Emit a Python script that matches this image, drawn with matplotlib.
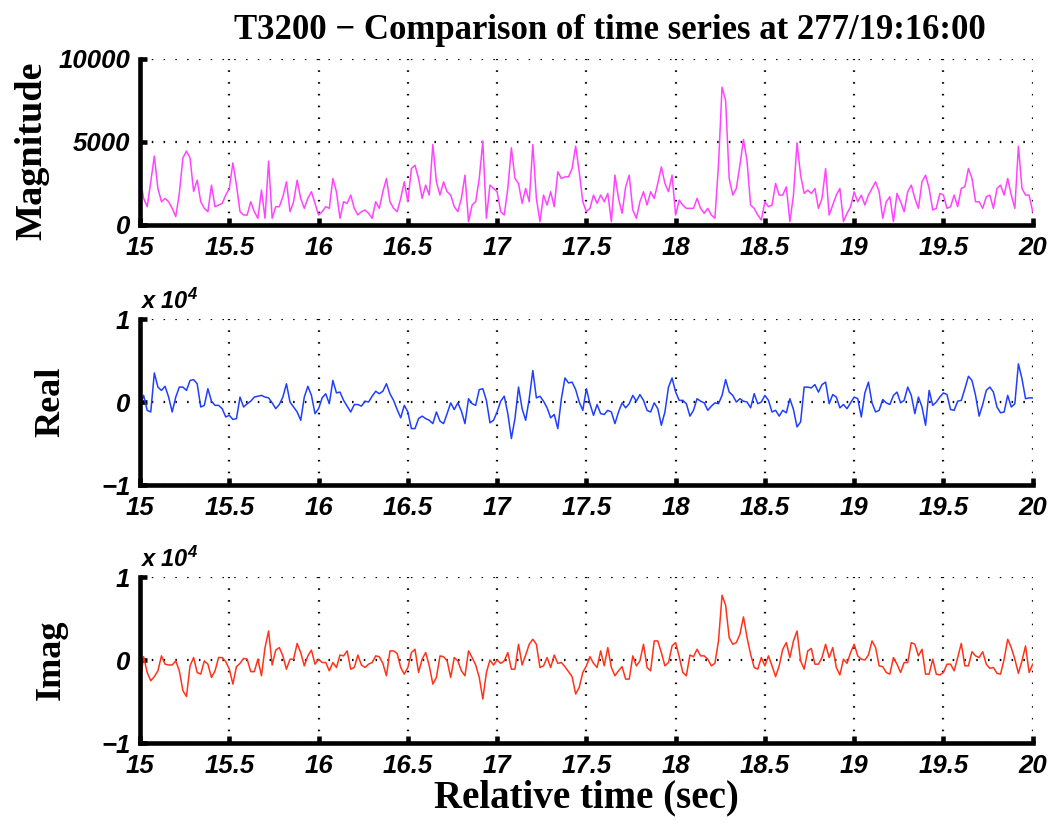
import numpy as np
import matplotlib.pyplot as plt
from matplotlib.ticker import FuncFormatter

plt.rcParams['font.family'] = 'Liberation Sans'
plt.rcParams['font.weight'] = 'bold'
plt.rcParams['font.style'] = 'italic'
plt.rcParams['mathtext.fontset'] = 'custom'
plt.rcParams['mathtext.rm'] = 'Liberation Sans:bold:italic'
plt.rcParams['mathtext.it'] = 'Liberation Sans:bold:italic'
plt.rcParams['mathtext.bf'] = 'Liberation Sans:bold:italic'

t_start = 15.0
t_step = 0.02

magnitude = [
    2830, 1600, 1100, 2600, 4150, 2200, 1400, 1600, 1400, 1000, 500, 1900, 4040, 4450, 4040, 2020,
    2700, 1400, 1000, 800, 2400, 1100, 1200, 1300, 1800, 2200, 3740, 2400, 800, 600, 600, 1400,
    800, 400, 2100, 400, 3840, 400, 1100, 1100, 1700, 2600, 800, 1400, 2700, 1600, 1000, 1600,
    2000, 1300, 600, 800, 1100, 1000, 2800, 2000, 400, 1400, 1300, 1800, 1000, 600, 800, 900,
    700, 400, 1400, 1000, 2000, 2800, 1400, 1000, 800, 1600, 2600, 1400, 3400, 3600, 2800, 1600,
    2400, 1800, 4850, 2600, 1800, 2600, 2000, 1800, 1100, 800, 1600, 3000, 200, 1200, 1400, 2800,
    5050, 400, 2400, 2200, 2000, 800, 600, 2200, 4650, 2800, 2500, 1300, 2200, 1400, 4850, 1600,
    200, 1800, 1200, 2000, 1100, 3200, 2800, 2900, 2900, 3400, 4750, 3200, 1400, 800, 1000, 1800,
    1300, 1800, 1400, 1900, 200, 3000, 1600, 700, 2300, 3000, 900, 400, 1400, 2000, 1200, 2000,
    1600, 2500, 3500, 2500, 2000, 3000, 600, 1500, 1200, 1000, 1000, 1000, 1600, 1000, 700, 1000,
    600, 400, 3600, 8300, 7500, 2800, 1800, 2200, 3600, 5150, 3840, 1200, 1000, 600, 300, 1400,
    1100, 1200, 2500, 1800, 1800, 2300, 200, 1800, 4950, 3000, 1900, 2100, 1900, 2200, 1000, 1600,
    3400,
    600, 1200, 1800, 2200, 200, 700, 1100, 2000, 1400, 1800, 1200, 1800, 2200, 2600, 2000, 400,
    1400, 1700, 200, 1900, 1400, 800, 2000, 2400, 1600, 1000, 2600, 3000, 2200, 900, 1000, 1900,
    1800, 1000, 1100, 1800, 1100, 2200, 2300, 3400, 2800, 1400, 1400, 1000, 1700, 1800, 1000, 2200,
    2400, 1800, 2800, 1800, 1000, 4750, 2200, 1800, 1800, 800,
]

real_part = [
    -400, 800, -1000, -1200, 3500, 1800, 1400, 1900, 600, -1200, 600, 1800, 1800, 1400, 2600, 2700,
    2200, -600, -400, 1600, 100, -400, -400, -800, -1800, -1600, -2100, -2000, 600, -600, -200, 100,
    600, 700, 800, 600, 500, -100, -800, -300, 600, 2200, 0, -600, -1200, -2200, 600, 1900,
    800, -1400, -800, 500, 1000, -200, 2600, 1100, 1200, 200, -500, -1200, -300, -300, -500, 100,
    0, 700, 1300, 1000, 1300, 2200, 1000, 200, -900, -1900, -400, -1200, -3200, -3200, -2000, -1700,
    -2000, -2200, -2600, -1200, -2300, -2600, -1400, -100, -900, -100, -1100, -2600, 400, -200, -400, 1500,
    1600, 200, -2500, -2200, -1200, 100, 700, -1400, -4400, -2000, 1800, -800, -2200, 400, 3800, 500,
    700, 100, -700, -1900, -1500, -3200, 400, 2900, 2300, 2400, 1500, 0, -1000, 1600, -200, -1600,
    -300, -1400, -1500, -1000, -1200, -2600, -1200, -100, -700, -200, 800, 100, 900, 200, -1000, -1200,
    -100, -800, -2800, -1200, 1800, 2900, 1200, 200, 200, -200, -1700, -1000, 400, 100, -100, -1000,
    -500, -100, -200, 800, 2700, 1200, 800, 0, 400, 100, 0, -700, 1000, -200, 0, 800,
    200, -1200, -1000, -1700, -1000, -1300, 400, -900, -3000, -2400, 1800, 1800, 1700, 2100, 1200, 2100,
    2400,
    -200, 900, 600, -700, -300, -800, -100, 600, 400, -1800, 1100, 2400, -100, -1200, -1000, 300,
    -100, -300, 800, 1200, -100, 200, 1800, 800, -1400, 600, -600, -2800, 1400, -400, 0, 600,
    1100, 900, -900, -1000, 100, 200, 1600, 3100, 2600, 800, -1700, -300, 1400, 1800, 1200, -600,
    -1300, -1200, 800, -600, -200, 4600, 2800, 400, 500, 500,
]

imag_part = [
    -2700, 400, -1500, -2500, -2000, -1300, 500, -500, -600, -600, -100, -1300, -3700, -4400, -700, 300,
    -1500, -1700, -100, -500, -2100, -1300, 300, 300, -200, -1100, -2900, -800, -400, 200, 100, -1400,
    -1400, 100, -1900, 1500, 3500, -600, 1200, 1500, 500, -1100, 100, 100, 2000, 900, -700, 500,
    1200, -500, 100, -300, -300, -1300, -300, -900, 600, 500, 1100, -1100, -900, 600, -600, -900,
    -500, -300, 500, 400, -400, -1900, 1100, 1100, 800, -900, -1700, -900, 900, 1300, -1500, 100,
    900, -700, -2900, -2100, 500, 400, -100, -2100, 300, -100, -1300, -1900, 1100, 300, -600, -2100,
    -4700, -1500, 0, -600, 0, -400, -100, 900, -1100, -1100, 1900, -600, 600, 1900, 2500, 1900,
    -900, -700, 300, -900, 600, -400, -300, -800, -1400, -2000, -4100, -3300, -1500, -700, 400, -400,
    -900, 1100, -700, 1500, -900, -1900, -1300, -800, -2300, -2300, 500, -700, -100, 1900, -900, -1300,
    2300, 2300, 900, -700, -300, 1700, 2100, 400, -1500, -1900, 600, 400, 1300, 500, 500, 100,
    -700, -400, 2300, 7800, 6600, 2700, 1900, 2100, 3100, 5200, 2700, 700, -900, -1100, 300, -700,
    500, -700, -2000, -700, 1300, 2100, 300, 2300, 3500, -100, -1100, 1100, 1400, -500, -500, 300,
    1900,
    300, 1500, -900, -1800, 100, -400, 900, 1900, 500, 100, 0, 600, 2300, 1500, -700, -800,
    -1500, -1700, 300, -500, -1500, -300, -300, 2100, 1900, 500, 1300, -1700, -1700, 100, -1700, -1800,
    -1500, -500, -500, -1300, 300, 2000, -700, -700, 1000, 500, 300, 1000, -500, -1000, -900, -1600,
    -1700, 100, 2500, 1500, 100, -1600, -100, 1700, -1500, -500,
]


def time_axis(values):
    return t_start + t_step * np.arange(len(values))


fig = plt.figure(figsize=(10.57, 8.24), dpi=100)
left, width, height = 0.1325, 0.8445, 0.2014
ax_mag = fig.add_axes([left, 0.727, width, height])
ax_re = fig.add_axes([left, 0.4114, width, height])
ax_im = fig.add_axes([left, 0.0983, width, height])

ax_mag.plot(time_axis(magnitude), magnitude, color='#ff44ff', lw=1.1)
ax_re.plot(time_axis(real_part), real_part, color='#1f3fff', lw=1.1)
ax_im.plot(time_axis(imag_part), imag_part, color='#ff3319', lw=1.1)

xticks = np.arange(15, 20.01, 0.5)
serif = dict(family='Liberation Serif', weight='bold', style='normal')

for ax in (ax_mag, ax_re, ax_im):
    ax.set_xlim(15, 20)
    ax.set_xticks(xticks)
    ax.xaxis.set_major_formatter(FuncFormatter(lambda v, p: f'{v:g}'))
    for s in ('top', 'right'):
        ax.spines[s].set_visible(False)
    for s in ('left', 'bottom'):
        ax.spines[s].set_linewidth(3.3)
        ax.spines[s].set_capstyle('projecting')
    ax.tick_params(direction='in', length=5, width=3.3, labelsize=18.5)
    ax.tick_params(axis='x', pad=8)
    ax.tick_params(axis='y', pad=7)
    ax.grid(True, color='k', linestyle=(0, (0.7, 4.6)), linewidth=1.6)
    ax.set_axisbelow(True)

ax_mag.set_ylim(0, 10000)
ax_mag.set_yticks([0, 5000, 10000])
ax_mag.yaxis.set_major_formatter(FuncFormatter(lambda v, p: f'{v:g}'))

for ax in (ax_re, ax_im):
    ax.set_ylim(-10000, 10000)
    ax.set_yticks([-10000, 0, 10000])
    ax.yaxis.set_major_formatter(
        FuncFormatter(lambda v, p: f'{v / 1e4:g}'.replace('-', '\u2212')))
    ax.text(0.0, 1.03, r'x 10$^{4}$', transform=ax.transAxes,
            fontsize=17, ha='left', va='bottom')

ax_mag.set_ylabel('Magnitude', fontsize=27.5, va='center', **serif)
ax_re.set_ylabel('Real', fontsize=26, va='center', **serif)
ax_im.set_ylabel('Imag', fontsize=26, va='center', **serif)
ax_mag.yaxis.set_label_coords(-0.121, 0.45)
ax_re.yaxis.set_label_coords(-0.10, 0.5)
ax_im.yaxis.set_label_coords(-0.10, 0.5)
ax_im.set_xlabel('Relative time (sec)', fontsize=28, labelpad=1, **serif)

fig.text(0.577, 0.963, 'T3200 \u2212 Comparison of time series at 277/19:16:00',
         fontsize=25, ha='center', va='center', **serif)

fig.savefig('out.png', dpi=100)
